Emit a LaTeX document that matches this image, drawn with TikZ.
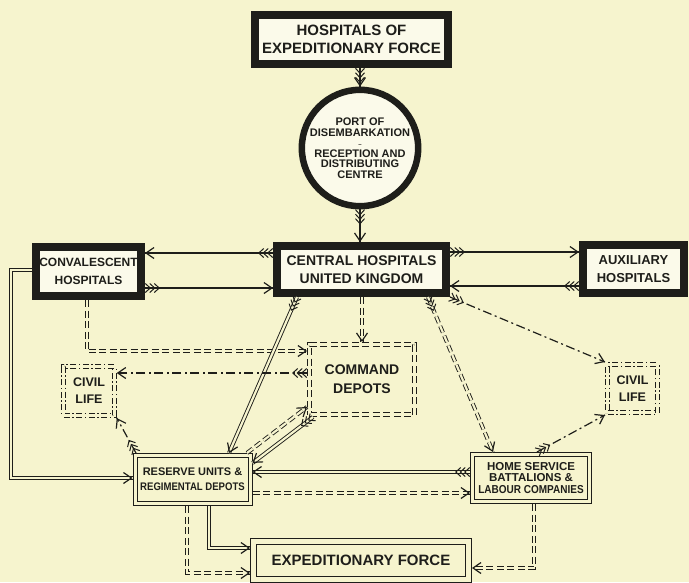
\documentclass[tikz,border=0pt]{standalone}
\usepackage{fontspec}
\setmainfont{Liberation Sans}
\newfontfamily\narrow[FakeStretch=0.87]{Liberation Sans}
\usetikzlibrary{arrows.meta,decorations.markings}
\definecolor{paper}{RGB}{246,244,206}
\definecolor{inner}{RGB}{251,250,234}
\definecolor{ink}{RGB}{30,30,26}
\newcommand{\fsz}[2]{\fontsize{#1}{#2}\selectfont}
\newcommand{\tipat}[1]{\pgfsetinnerlinewidth{0pt}\pgfsetdash{}{0pt}\arrow{#1}}

\tikzset{
	hd/.tip={Straight Barb[length=8pt,width=11pt,line width=1.2pt]},
	fb/.tip={Straight Barb[length=5pt,width=9pt,line width=1pt]},
	arrowhd/.style={postaction={decorate,decoration={markings,
		mark=at position 1 with {\tipat{hd}}}}},
	fletch/.style={postaction={decorate,decoration={markings,
		mark=at position 6pt with {\tipat{fb}},
		mark=at position 10.5pt with {\tipat{fb}},
		mark=at position 15pt with {\tipat{fb}}}}},
	heavy/.style={draw=ink, line width=8pt, fill=inner, inner sep=0pt, align=center, text=ink},
	ring/.style={circle, draw=ink, line width=6.5pt, fill=inner, minimum size=92pt, inner sep=0pt, align=center, text=ink},
	twin/.style={draw=ink, line width=1pt, double=paper, double distance=3pt, outer sep=2.5pt, inner sep=0pt, align=center, text=ink},
	dbox/.style={twin, dash pattern=on 7pt off 3.5pt},
	dotbox/.style={twin, dash pattern=on 6pt off 2.5pt on 1.5pt off 2.5pt},
	sol/.style={draw=ink, line width=1.3pt},
	twinline/.style={draw=ink, line width=0.9pt, double=paper, double distance=2.2pt},
	dashtwin/.style={twinline, dash pattern=on 7pt off 3.5pt},
	dashdot/.style={draw=ink, line width=1.2pt, dash pattern=on 9pt off 3.5pt on 2pt off 3.5pt}
}

\begin{document}
\begin{tikzpicture}[x=1pt,y=-1pt]
	\useasboundingbox (0,0) rectangle (689,582);
	\fill[paper] (0,0) rectangle (689,582);
	%% 方框
	\node[heavy, minimum width=193pt, minimum height=49pt, font=\bfseries\fsz{15}{18}] (hosp) at (351.5,39.5) {HOSPITALS OF\\EXPEDITIONARY FORCE};
	\node[ring, font=\bfseries\fsz{11}{10.5}] (port) at (360,148) {PORT OF\\DISEMBARKATION\\{\fsz{6}{6}--}\\RECEPTION AND\\DISTRIBUTING\\CENTRE};
	\node[heavy, minimum width=169pt, minimum height=47pt, font=\bfseries\fsz{14}{18}] (cent) at (361.5,269.5) {CENTRAL HOSPITALS\\UNITED KINGDOM};
	\node[heavy, minimum width=105pt, minimum height=49pt, font=\bfseries\fsz{12}{18}] (conv) at (88.5,271.5) {CONVALESCENT\\HOSPITALS};
	\node[heavy, minimum width=101pt, minimum height=48pt, font=\bfseries\fsz{13}{18}] (aux) at (633.5,269) {AUXILIARY\\HOSPITALS};
	\node[dbox, minimum width=105pt, minimum height=70pt, font=\bfseries\fsz{14}{19}] (depot) at (362,379.5) {COMMAND\\DEPOTS};
	\node[dotbox, minimum width=50.5pt, minimum height=49pt, font=\bfseries\fsz{12.5}{17}] (civl) at (89,391) {CIVIL\\LIFE};
	\node[dotbox, minimum width=50pt, minimum height=48pt, font=\bfseries\fsz{12.5}{17}] (civr) at (632.5,388.5) {CIVIL\\LIFE};
	\node[twin, minimum width=115pt, minimum height=48pt, font=\bfseries\fsz{11}{15}] (resv) at (192.5,479.5) {RESERVE UNITS \&\\{\narrow\bfseries REGIMENTAL DEPOTS}};
	\node[twin, minimum width=117pt, minimum height=47pt, font=\bfseries\fsz{11.5}{11.5}] (home) at (531,478) {HOME SERVICE\\BATTALIONS \&\\{\narrow\bfseries LABOUR COMPANIES}};
	\node[twin, double distance=5pt, outer sep=3.5pt, minimum width=215pt, minimum height=38pt, font=\bfseries\fsz{15}{18}] (expf) at (361,560.5) {EXPEDITIONARY FORCE};
	%% 连线
	\draw[sol, fletch, arrowhd] (hosp.south -| port) -- (port.north);
	\draw[sol, fletch, arrowhd] (port.south) -- (port.south |- cent.north);
	\draw[sol, fletch, arrowhd] (cent.west |- 0,253) -- (conv.east |- 0,253);
	\draw[sol, fletch, arrowhd] (conv.east |- 0,288) -- (cent.west |- 0,288);
	\draw[sol, fletch, arrowhd] (cent.east |- 0,252) -- (aux.west |- 0,252);
	\draw[sol, fletch, arrowhd] (aux.west |- 0,286) -- (cent.east |- 0,286);
	% 双线
	\draw[twinline, arrowhd] (conv.west |- 0,270) -- (11,270) -- (11,478) -- (resv.west |- 0,478);
	\draw[dashtwin, arrowhd] (conv.south -| 87,0) -- (87,351) -- (depot.west |- 0,351);
	\draw[dashtwin, arrowhd] (cent.south -| depot) -- (depot.north);
	\draw[twinline, fletch, arrowhd] (cent.south -| 297,0) -- (resv.north -| 229,0);
	\draw[dashtwin, arrowhd] (resv.north -| 247,0) -- (depot.west |- 0,407);
	\draw[twinline, fletch, arrowhd] (depot.south -| 313,0) -- (resv.east |- 0,463);
	\draw[dashtwin, fletch, arrowhd] (cent.south -| 428,0) -- (home.north -| 493,0);
	\draw[twinline, fletch, arrowhd] (home.west |- 0,472) -- (resv.east |- 0,472);
	\draw[dashtwin, arrowhd] (resv.east |- 0,493) -- (home.west |- 0,493);
	\draw[twinline, arrowhd] (resv.south -| 209,0) -- (209,548) -- (expf.west |- 0,548);
	\draw[dashtwin, arrowhd] (resv.south -| 187,0) -- (187,573) -- (expf.west |- 0,573);
	\draw[dashtwin, arrowhd] (home.south -| 534,0) -- (534,568) -- (expf.east |- 0,568);
	% 点划线
	\draw[dashdot, fletch, arrowhd] (depot.west |- 0,373) -- (civl.east |- 0,373);
	\draw[dashdot, fletch, arrowhd] (cent.south east) -- (civr.north west);
	\draw[dashdot, fletch, arrowhd] (home.north -| 537,0) -- (civr.south west);
	\draw[dashdot, fletch, arrowhd] (resv.north -| 136,0) -- (civl.south east);
\end{tikzpicture}
\end{document}
